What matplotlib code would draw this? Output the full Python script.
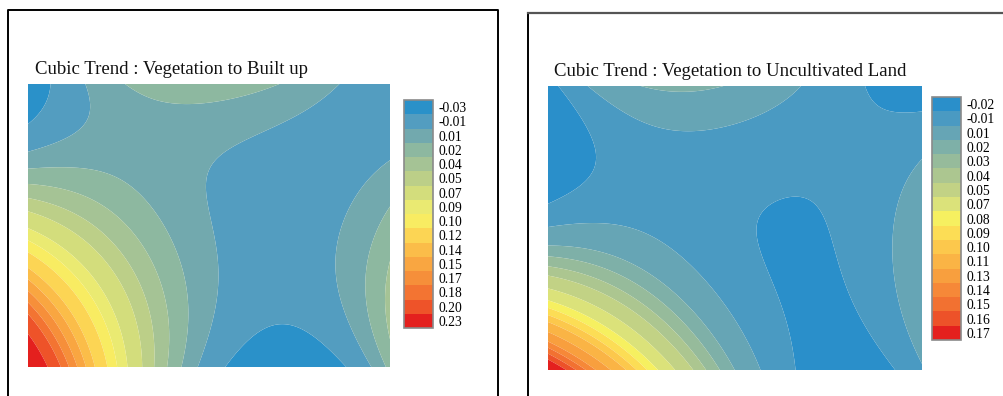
import numpy as np
import matplotlib
matplotlib.use("Agg")
import matplotlib.pyplot as plt
from matplotlib.lines import Line2D

# ---------------- data ----------------
# Values on a 7 x 7 grid of the map
# (columns: left -> right, rows: top -> bottom)
grid_u = [0, 1 / 6, 2 / 6, 3 / 6, 4 / 6, 5 / 6, 1]
grid_v = [1, 5 / 6, 4 / 6, 3 / 6, 2 / 6, 1 / 6, 0]

built_vals = [
    [-0.035, 0.007, 0.022, 0.025, 0.022, 0.007, -0.030],
    [-0.020, -0.008, 0.008, 0.010, 0.008, -0.002, -0.012],
    [0.022, 0.015, -0.005, -0.010, -0.012, 0.003, 0.012],
    [0.085, 0.055, 0.018, -0.008, -0.012, 0.013, 0.028],
    [0.138, 0.100, 0.038, -0.002, -0.024, 0.006, 0.030],
    [0.200, 0.120, 0.050, 0.000, -0.035, -0.018, 0.024],
    [0.240, 0.132, 0.062, 0.006, -0.035, -0.030, 0.026],
]
built_levels = [-0.045, -0.02, 0.0, 0.015, 0.03, 0.045, 0.06, 0.08, 0.095, 0.11,
                0.13, 0.145, 0.16, 0.175, 0.19, 0.215, 0.25]
built_labels = ["-0.03", "-0.01", "0.01", "0.02", "0.04", "0.05", "0.07", "0.09", "0.10",
                "0.12", "0.14", "0.15", "0.17", "0.18", "0.20", "0.23"]

uncult_vals = [
    [-0.022, -0.005, 0.012, 0.022, 0.014, -0.022, -0.032],
    [-0.025, -0.006, -0.003, 0.003, 0.000, -0.012, -0.022],
    [-0.025, -0.006, -0.008, -0.012, -0.010, -0.005, 0.008],
    [-0.008, -0.010, -0.012, -0.030, -0.014, 0.000, 0.020],
    [0.050, 0.020, -0.006, -0.018, -0.030, -0.006, 0.020],
    [0.117, 0.072, 0.030, -0.006, -0.030, -0.020, 0.012],
    [0.175, 0.125, 0.072, 0.022, -0.018, -0.030, -0.005],
]
uncult_levels = [-0.03, -0.015, 0.0, 0.015, 0.025, 0.035, 0.045, 0.06, 0.075, 0.085,
                 0.095, 0.105, 0.12, 0.135, 0.145, 0.155, 0.165, 0.18]
uncult_labels = ["-0.02", "-0.01", "0.01", "0.02", "0.03", "0.04", "0.05", "0.07", "0.08",
                 "0.09", "0.10", "0.11", "0.13", "0.14", "0.15", "0.16", "0.17"]

built_title = "Cubic Trend : Vegetation to Built up"
uncult_title = "Cubic Trend : Vegetation to Uncultivated Land"

built_colors = ['#2a91c9', '#539dc0', '#72a9ae', '#8db8a0', '#a5c395', '#bccf88', '#d3dd7c',
                '#eaea72', '#f8ec62', '#fcd554', '#fbbd49', '#f9a641', '#f68f3a', '#f37432',
                '#ee5329', '#e4201e']
uncult_colors = ['#2a8fca', '#4a9ac2', '#66a5b5', '#7eb0a8', '#96bb9b', '#acc690', '#c2d285',
                 '#dbe27a', '#f6f060', '#fcdd55', '#fcc84c', '#fab445', '#f89f3e', '#f68838',
                 '#f27131', '#ed5229', '#e4201e']

W, H = 1004, 396
SERIF = ['Liberation Serif', 'DejaVu Serif']


def cubic_terms(u, v):
    u = np.asarray(u, float)
    v = np.asarray(v, float)
    return np.stack([np.ones_like(u), u, v, u * u, u * v, v * v,
                     u ** 3, u * u * v, u * v * v, v ** 3], axis=-1)


def cubic_trend(vals, gu, gv, emphasis):
    su, sv = np.meshgrid(grid_u, grid_v)
    z = np.asarray(vals, float).ravel()
    w = 1.0 + emphasis * np.clip(z, 0, None)       # trust the colourful gradient more
    A = cubic_terms(su.ravel(), sv.ravel())
    coef, *_ = np.linalg.lstsq(A * w[:, None], z * w, rcond=None)
    return cubic_terms(gu, gv) @ coef


def px_axes(fig, x0, y0, x1, y1):
    return fig.add_axes([x0 / W, 1 - y1 / H, (x1 - x0) / W, (y1 - y0) / H])


def fig_line(fig, xs, ys, color, lw):
    fig.add_artist(Line2D([x / W for x in xs], [1 - y / H for y in ys],
                          transform=fig.transFigure, color=color, lw=lw,
                          solid_capstyle='projecting'))


fig = plt.figure(figsize=(W / 100, H / 100), dpi=100)
fig.patch.set_facecolor('white')

gu, gv = np.meshgrid(np.linspace(0, 1, 400), np.linspace(0, 1, 320))

panels = [
    dict(vals=built_vals, levels=built_levels, labels=built_labels, emph=0.0,
         colors=built_colors, title=built_title, plot=(28, 84, 390, 367),
         cbar=(404, 100, 433, 328), title_xy=(35, 69)),
    dict(vals=uncult_vals, levels=uncult_levels, labels=uncult_labels, emph=10.0,
         colors=uncult_colors, title=uncult_title, plot=(548, 86, 922, 370),
         cbar=(932, 97, 961, 340), title_xy=(554, 72)),
]

for p in panels:
    ax = px_axes(fig, *p['plot'])
    zz = cubic_trend(p['vals'], gu, gv, p['emph'])
    lv = p['levels']
    zz = np.clip(zz, lv[0] + 1e-6, lv[-1] - 1e-6)
    cs = ax.contourf(gu, gv, zz, levels=lv, colors=p['colors'], antialiased=True)
    ax.set_xlim(0, 1)
    ax.set_ylim(0, 1)
    ax.axis('off')

    cax = px_axes(fig, *p['cbar'])
    mids = [(lv[i] + lv[i + 1]) / 2 for i in range(len(lv) - 1)]
    cb = fig.colorbar(cs, cax=cax, ticks=mids, drawedges=True)
    cb.ax.invert_yaxis()
    cb.set_ticklabels(p['labels'])
    cb.ax.tick_params(length=0, pad=4, labelsize=9.8)
    for t in cb.ax.get_yticklabels():
        t.set_fontfamily(SERIF)
    cb.outline.set_edgecolor('#8a8a8a')
    cb.outline.set_linewidth(1.2)
    cb.dividers.set_color('#8a8a8a')
    cb.dividers.set_linewidth(1.5)

    tx, ty = p['title_xy']
    fig.text(tx / W, 1 - ty / H, p['title'], fontsize=13.5, family=SERIF,
             ha='left', va='center', color='#111111')

# panel frames
fig_line(fig, [8, 8, 498, 498], [400, 10, 10, 400], 'black', 1.4)
fig_line(fig, [528, 528], [400, 13], 'black', 1.4)
fig_line(fig, [528, 1010], [13, 13], '#555555', 1.6)

fig.savefig('out.png', dpi=100, facecolor='white')
